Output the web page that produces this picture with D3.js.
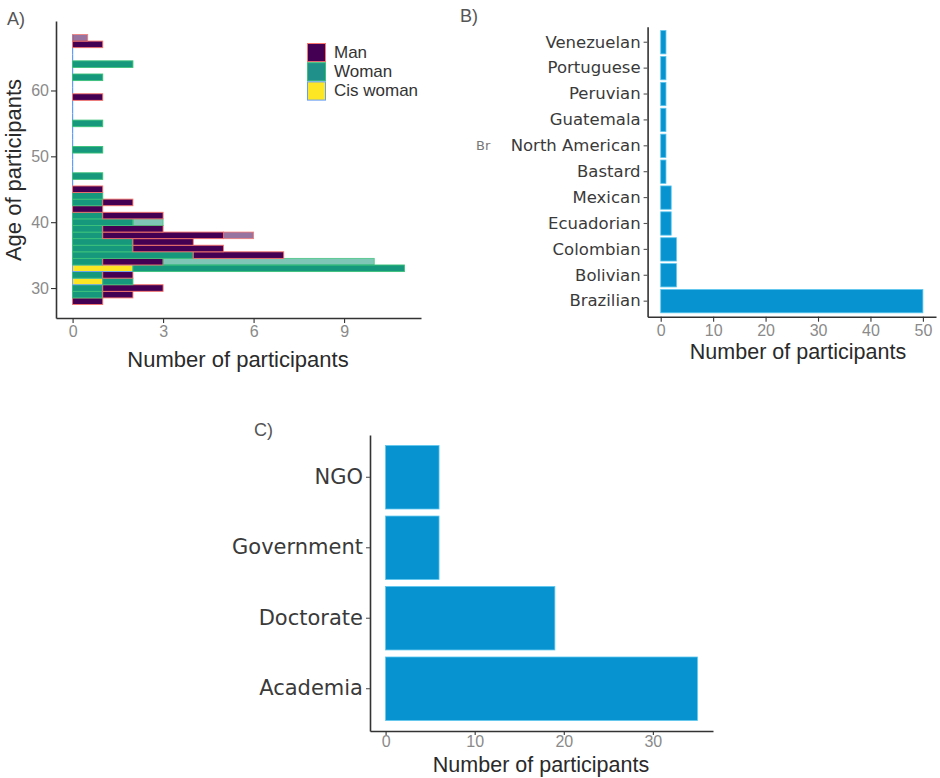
<!DOCTYPE html>
<html>
<head>
<meta charset="utf-8">
<script src="https://cdn.jsdelivr.net/npm/d3@7/dist/d3.min.js"></script>
<style>
  html, body { margin: 0; padding: 0; background: #ffffff; }
  svg { display: block; }
</style>
</head>
<body>
<svg id="chart" width="940" height="778"></svg>
<script>
// ---------- Panel A data (age histogram, stacked by gender) ----------
const ages        = [28,29,30,31,32,33,34,35,36,37,38,39,40,41,42,43,44,45,46,47,48,49,50,51,52,53,54,55,56,57,58,59,60,61,62,63,64,65,66,67,68];
const manCounts   = [ 1, 1, 2, 0, 1, 0, 2, 3, 3, 2, 4, 2, 0, 2, 1, 1, 0, 1, 0, 0, 0, 0, 0, 0, 0, 0, 0, 0, 0, 0, 0, 1, 0, 0, 0, 0, 0, 0, 0, 1, 0];
const womanCounts = [ 0, 1, 1, 1, 1, 9, 1, 4, 2, 2, 1, 1, 2, 1, 0, 1, 1, 0, 0, 1, 0, 0, 0, 1, 0, 0, 0, 1, 0, 0, 0, 0, 0, 0, 1, 0, 2, 0, 0, 0, 0];
const cisCounts   = [ 0, 0, 0, 1, 0, 2, 0, 0, 0, 0, 0, 0, 0, 0, 0, 0, 0, 0, 0, 0, 0, 0, 0, 0, 0, 0, 0, 0, 0, 0, 0, 0, 0, 0, 0, 0, 0, 0, 0, 0, 0];
// faint (overlapping) segments visible in the picture
const womanFaint  = [ 0, 0, 0, 0, 0, 0, 7, 0, 0, 0, 0, 0, 1, 0, 0, 0, 0, 0, 0, 0, 0, 0, 0, 0, 0, 0, 0, 0, 0, 0, 0, 0, 0, 0, 0, 0, 0, 0, 0, 0, 0];
const manFaint    = [ 0, 0, 0, 0, 0, 0, 0, 0, 0, 0, 1, 0, 0, 0, 0, 0, 0, 0, 0, 0, 0, 0, 0, 0, 0, 0, 0, 0, 0, 0, 0, 0, 0, 0, 0, 0, 0, 0, 0, 0, 0.5];
const genders     = ["Man", "Woman", "Cis woman"];
const ageTicks    = [30, 40, 50, 60];
const countTicksA = [0, 3, 6, 9];

// ---------- Panel B data (nationality) ----------
const nationalities = ["Venezuelan","Portuguese","Peruvian","Guatemala","North American","Bastard","Mexican","Ecuadorian","Colombian","Bolivian","Brazilian"];
const nationalityCounts = [1,1,1,1,1,1,2,2,3,3,50];
const countTicksB = [0,10,20,30,40,50];

// ---------- Panel C data (sector) ----------
const sectors = ["NGO","Government","Doctorate","Academia"];
const sectorCounts = [6,6,19,35];
const countTicksC = [0,10,20,30];

// ---------- styles ----------
const fillCol   = {"Man":"#440154","Woman":"#15987c","Cis woman":"#FDE725"};
const legendFill= {"Man":"#440154","Woman":"#1f908a","Cis woman":"#FDE725"};
const strokeCol = {"Man":"#F8766D","Woman":"#3cc27a","Cis woman":"#619CFF"};
const barBlue = "#0693cf", barBlueStroke = "#5cc6ef";
const numFont = "'Liberation Sans', Arial, sans-serif";
const catFont = "'DejaVu Sans', Verdana, sans-serif";

const svg = d3.select("#chart");
svg.append("rect").attr("width",940).attr("height",778).attr("fill","#fff");

function styleAxis(g, fontSize, color, family) {
  g.select(".domain").attr("stroke","#333").attr("stroke-width",1.6);
  g.selectAll(".tick line").attr("stroke","#333").attr("stroke-width",1.1);
  g.selectAll(".tick text").attr("fill",color).attr("font-size",fontSize).attr("font-family",family);
}

// =================== Panel A ===================
const xA = d3.scaleLinear().domain([-0.55, 11.55]).range([56, 421]);
const yA = d3.scaleLinear().domain([25.45, 70.55]).range([318, 21]);
const gA = svg.append("g");

const rowsA = ages.map((a,i) => {
  const segs = [];
  let acc = 0;
  const add = (key, v, faint) => { if (v > 0) { segs.push({key, x0: acc, x1: acc + v, faint}); acc += v; } };
  add("Cis woman", cisCounts[i], false);
  add("Woman", womanCounts[i], false);
  add("Man", manCounts[i], false);
  add("Woman", womanFaint[i], true);
  add("Man", manFaint[i], true);
  return {age: a, cis: cisCounts[i], segs};
});

// zero-count cis woman outlines (thin blue line at x = 0)
gA.selectAll("line.zero").data(rowsA.filter(r => r.cis === 0)).join("line")
  .attr("x1", xA(0)).attr("x2", xA(0))
  .attr("y1", d => yA(d.age + 0.5)).attr("y2", d => yA(d.age - 0.5))
  .attr("stroke", strokeCol["Cis woman"]).attr("stroke-width", 1.2);

const segData = rowsA.flatMap(r => r.segs.map(s => Object.assign({age: r.age}, s)));
gA.selectAll("rect.seg").data(segData).join("rect")
  .attr("x", d => xA(d.x0))
  .attr("width", d => xA(d.x1) - xA(d.x0))
  .attr("y", d => yA(d.age + 0.5))
  .attr("height", d => yA(d.age - 0.5) - yA(d.age + 0.5))
  .attr("fill", d => fillCol[d.key])
  .attr("fill-opacity", d => d.faint ? 0.55 : 1)
  .attr("stroke", d => strokeCol[d.key])
  .attr("stroke-opacity", d => d.faint ? 0.8 : 1)
  .attr("stroke-width", 0.9);

const axAx = gA.append("g").attr("transform","translate(0,318)")
  .call(d3.axisBottom(xA).tickValues(countTicksA).tickSize(5).tickSizeOuter(0).tickPadding(3));
styleAxis(axAx, 16, "#8a8a8a", numFont);
const axAy = gA.append("g").attr("transform","translate(56,0)")
  .call(d3.axisLeft(yA).tickValues(ageTicks).tickSize(5).tickSizeOuter(0).tickPadding(2));
styleAxis(axAy, 16, "#8a8a8a", numFont);

gA.append("text").attr("x",238).attr("y",367).attr("text-anchor","middle")
  .attr("font-family",numFont).attr("font-size",22).attr("fill","#2a2a2a").text("Number of participants");
gA.append("text").attr("transform","translate(21,170) rotate(-90)").attr("text-anchor","middle")
  .attr("font-family",numFont).attr("font-size",22).attr("fill","#2a2a2a").text("Age of participants");
gA.append("text").attr("x",7).attr("y",25).attr("font-family",numFont).attr("font-size",18)
  .attr("fill","#555").text("A)");

// legend
const leg = gA.append("g").attr("transform","translate(307,43)");
const li = leg.selectAll("g").data(genders).join("g").attr("transform",(d,i)=>`translate(0,${i*19.2})`);
li.append("rect").attr("x",0.5).attr("y",0.5).attr("width",18).attr("height",18.2)
  .attr("fill", d => legendFill[d]).attr("stroke", d => strokeCol[d]).attr("stroke-width",1);
li.append("text").attr("x",27).attr("y",14.5).attr("font-family",numFont).attr("font-size",17)
  .attr("fill","#333").text(d => d);

// =================== Panel B ===================
const xB = d3.scaleLinear().domain([-2.5, 52.5]).range([647.6, 936]);
const yB = d3.scaleBand().domain(nationalities).range([26.7, 316.7]).paddingInner(0.1).paddingOuter(0.15);
const gB = svg.append("g");
gB.selectAll("rect").data(nationalities.map((n,i)=>({n, v: nationalityCounts[i]}))).join("rect")
  .attr("x", xB(0)).attr("y", d => yB(d.n))
  .attr("width", d => xB(d.v) - xB(0)).attr("height", yB.bandwidth())
  .attr("fill", barBlue).attr("stroke", barBlueStroke).attr("stroke-width", 0.8);
const bx = gB.append("g").attr("transform","translate(0,316.7)")
  .call(d3.axisBottom(xB).tickValues(countTicksB).tickSize(5).tickSizeOuter(0).tickPadding(3));
styleAxis(bx, 16, "#8a8a8a", numFont);
const by = gB.append("g").attr("transform","translate(647.6,0)")
  .call(d3.axisLeft(yB).tickSize(4).tickSizeOuter(0).tickPadding(3));
styleAxis(by, 16.5, "#3a3a3a", catFont);
by.selectAll(".tick line").attr("stroke","#555");
gB.append("text").attr("x",798).attr("y",359).attr("text-anchor","middle")
  .attr("font-family",numFont).attr("font-size",21.5).attr("fill","#2a2a2a").text("Number of participants");
gB.append("text").attr("x",460).attr("y",22).attr("font-family",numFont).attr("font-size",18)
  .attr("fill","#555").text("B)");
gB.append("text").attr("x",476).attr("y",150).attr("font-family",catFont).attr("font-size",13)
  .attr("fill","#777").text("Br");

// =================== Panel C ===================
const xC = d3.scaleLinear().domain([-1.75, 36.75]).range([370, 713]);
const yC = d3.scaleBand().domain(sectors).range([435, 731]).paddingInner(0.1).paddingOuter(0.15);
const gC = svg.append("g");
gC.selectAll("rect").data(sectors.map((s,i)=>({s, v: sectorCounts[i]}))).join("rect")
  .attr("x", xC(0)).attr("y", d => yC(d.s))
  .attr("width", d => xC(d.v) - xC(0)).attr("height", yC.bandwidth())
  .attr("fill", barBlue).attr("stroke", barBlueStroke).attr("stroke-width", 0.8);
const cx = gC.append("g").attr("transform","translate(0,731)")
  .call(d3.axisBottom(xC).tickValues(countTicksC).tickSize(4).tickSizeOuter(0).tickPadding(1));
styleAxis(cx, 16, "#8a8a8a", numFont);
const cy = gC.append("g").attr("transform","translate(370,0)")
  .call(d3.axisLeft(yC).tickSize(4).tickSizeOuter(0).tickPadding(3));
styleAxis(cy, 21, "#3a3a3a", catFont);
cy.selectAll(".tick line").attr("stroke","#555");
gC.append("text").attr("x",541).attr("y",772).attr("text-anchor","middle")
  .attr("font-family",numFont).attr("font-size",21.5).attr("fill","#2a2a2a").text("Number of participants");
gC.append("text").attr("x",254).attr("y",436).attr("font-family",numFont).attr("font-size",18)
  .attr("fill","#555").text("C)");
</script>
</body>
</html>
